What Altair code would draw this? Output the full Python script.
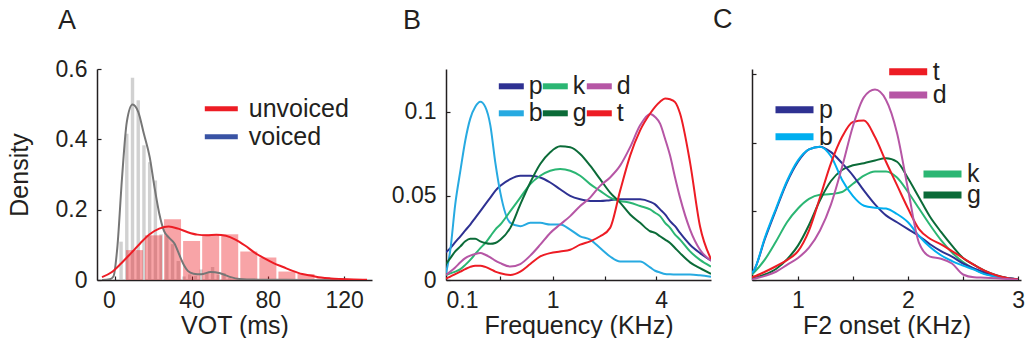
import altair as alt
import pandas as pd

FONT = "Liberation Sans"
INK = "#231f20"

# ---------------- Panel A : VOT ----------------
unvoiced_bin_ms = [10, 20, 30, 40, 50, 60, 70, 80, 90, 100, 110]
unvoiced_bin_density = [0.085, 0.127, 0.173, 0.111, 0.130, 0.130, 0.081, 0.064, 0.024, 0.017, 0.005]

voiced_bin_ms = [3, 6, 9, 12, 15, 18, 21, 24, 27, 30, 33, 36, 39, 42, 45, 48, 51, 54, 57, 60, 66, 75]
voiced_bin_density = [0.109, 0.416, 0.575, 0.511, 0.383, 0.335, 0.283, 0.130, 0.126, 0.102, 0.054,
                      0.010, 0.016, 0.012, 0.030, 0.020, 0.037, 0.015, 0.020, 0.005, 0.002, 0.003]

unvoiced_kde_ms = [-7, -2, 3, 8, 13, 18, 23, 28, 33, 38, 43, 48, 53, 58, 63, 68, 73, 78, 83, 88,
                   93, 98, 103, 108, 113, 118, 125, 132]
unvoiced_kde = [0.008, 0.022, 0.047, 0.075, 0.104, 0.130, 0.146, 0.152, 0.146, 0.136, 0.129, 0.127,
                0.129, 0.126, 0.115, 0.098, 0.078, 0.062, 0.048, 0.037, 0.026, 0.017, 0.012, 0.007,
                0.0045, 0.003, 0.0015, 0.001]

voiced_kde_ms = [-7, -3, -1, 1, 3.5, 6, 9, 12, 15, 18, 20.5, 23, 25.5, 28, 31, 34, 36, 38, 41, 45,
                 50, 55, 60, 65, 75, 90, 131]
voiced_kde = [0.0, 0.002, 0.01, 0.09, 0.29, 0.449, 0.499, 0.478, 0.415, 0.35, 0.265, 0.19, 0.14,
              0.121, 0.104, 0.066, 0.042, 0.026, 0.018, 0.016, 0.023, 0.019, 0.009, 0.003, 0.001,
              0.0005, 0.0]

A_series = ["unvoiced", "voiced"]
A_series_colors = {"unvoiced": "#ed1c24", "voiced": "#3953a4"}

# ---------------- Panel B : burst spectrum ----------------
B_freq_khz = [0.010, 0.033, 0.060, 0.090, 0.120, 0.152, 0.186, 0.222, 0.259, 0.299, 0.340, 0.384,
              0.478, 0.582, 0.697, 0.824, 0.965, 1.120, 1.293, 1.484, 1.695, 1.928, 2.186, 2.472,
              2.790, 3.140, 3.528, 3.736, 3.955, 4.186, 4.429, 4.684, 4.953, 5.533, 6.174, 6.96]
B_p = [0.0165, 0.019, 0.0225, 0.026, 0.0295, 0.033, 0.037, 0.041, 0.045, 0.049, 0.053, 0.056,
       0.060, 0.062, 0.062, 0.061, 0.058, 0.054, 0.050, 0.048, 0.047, 0.047, 0.0475, 0.048, 0.048,
       0.048, 0.0465, 0.045, 0.042, 0.039, 0.035, 0.032, 0.028, 0.021, 0.016, 0.0115]
B_k = [0.003, 0.004, 0.005, 0.0065, 0.009, 0.012, 0.0155, 0.019, 0.022, 0.026, 0.030, 0.033,
       0.041, 0.049, 0.057, 0.062, 0.065, 0.066, 0.065, 0.062, 0.057, 0.053, 0.049, 0.047, 0.046,
       0.044, 0.042, 0.040, 0.038, 0.034, 0.031, 0.027, 0.024, 0.017, 0.012, 0.008]
B_d = [0.003, 0.005, 0.0075, 0.0105, 0.013, 0.0145, 0.0155, 0.016, 0.015, 0.0135, 0.0115, 0.010,
       0.008, 0.0095, 0.0145, 0.021, 0.028, 0.033, 0.038, 0.044, 0.049, 0.056, 0.061, 0.068, 0.079,
       0.092, 0.0988, 0.097, 0.093, 0.084, 0.074, 0.061, 0.049, 0.030, 0.018, 0.0115]
B_b = [0.004, 0.018, 0.045, 0.065, 0.083, 0.096, 0.103, 0.106, 0.103, 0.092, 0.070, 0.052,
       0.034, 0.032, 0.034, 0.034, 0.033, 0.033, 0.030, 0.026, 0.024, 0.019, 0.014, 0.011, 0.011,
       0.011, 0.0075, 0.0055, 0.0045, 0.0036, 0.0034, 0.0033, 0.0032, 0.0032, 0.0028, 0.002]
B_g = [0.0095, 0.013, 0.017, 0.020, 0.023, 0.0245, 0.0245, 0.023, 0.022, 0.0215, 0.022, 0.024,
       0.031, 0.045, 0.058, 0.069, 0.076, 0.0795, 0.079, 0.075, 0.068, 0.060, 0.052, 0.046, 0.039,
       0.034, 0.029, 0.028, 0.026, 0.024, 0.022, 0.019, 0.016, 0.0105, 0.007, 0.0036]
B_t = [0.0008, 0.002, 0.0035, 0.005, 0.0065, 0.0078, 0.0085, 0.0085, 0.0078, 0.0065, 0.005, 0.004,
       0.003, 0.005, 0.0095, 0.014, 0.016, 0.017, 0.018, 0.021, 0.023, 0.026, 0.031, 0.053, 0.074,
       0.089, 0.099, 0.103, 0.106, 0.108, 0.1075, 0.1058, 0.099, 0.070, 0.032, 0.0125]

PHONE_COLORS_B = {"p": "#2e3192", "k": "#2bb673", "d": "#b656a5",
                  "b": "#27aae1", "g": "#0b6b38", "t": "#ed1c24"}
PHONE_COLORS_C = {"p": "#2e3192", "k": "#2bb673", "d": "#b656a5",
                  "b": "#00aeef", "g": "#0b6b38", "t": "#ed1c24"}

# ---------------- Panel C : F2 onset ----------------
C_f2_khz = [0.58, 0.6, 0.7, 0.8, 0.9, 1.0, 1.1, 1.2, 1.3, 1.4, 1.5, 1.6, 1.7, 1.8, 1.9, 2.0,
            2.1, 2.2, 2.3, 2.4, 2.5, 2.6, 2.7, 2.8, 2.9, 3.0]
C_p = [0.05, 0.07, 0.30, 0.51, 0.71, 0.86, 0.95, 0.97, 0.93, 0.85, 0.76, 0.65, 0.55, 0.47, 0.42,
       0.37, 0.32, 0.26, 0.21, 0.17, 0.12, 0.085, 0.055, 0.03, 0.015, 0.006]
C_b = [0.05, 0.07, 0.31, 0.52, 0.72, 0.87, 0.95, 0.97, 0.90, 0.73, 0.61, 0.54, 0.525, 0.52, 0.48,
       0.42, 0.32, 0.24, 0.18, 0.138, 0.105, 0.075, 0.041, 0.025, 0.012, 0.005]
C_k = [0.04, 0.055, 0.15, 0.28, 0.42, 0.52, 0.59, 0.62, 0.625, 0.64, 0.70, 0.76, 0.79, 0.79, 0.745,
       0.64, 0.52, 0.40, 0.29, 0.20, 0.13, 0.08, 0.045, 0.025, 0.012, 0.005]
C_g = [0.01, 0.015, 0.04, 0.08, 0.15, 0.25, 0.40, 0.58, 0.72, 0.80, 0.835, 0.85, 0.87, 0.886, 0.86,
       0.74, 0.60, 0.46, 0.35, 0.25, 0.16, 0.11, 0.066, 0.035, 0.015, 0.005]
C_t = [0.02, 0.025, 0.06, 0.10, 0.145, 0.21, 0.36, 0.60, 0.85, 1.04, 1.15, 1.16, 1.04, 0.86, 0.69,
       0.52, 0.37, 0.30, 0.26, 0.21, 0.16, 0.11, 0.066, 0.035, 0.015, 0.005]
C_d = [0.003, 0.008, 0.03, 0.06, 0.11, 0.16, 0.235, 0.36, 0.55, 0.82, 1.12, 1.33, 1.385, 1.31, 1.07,
       0.66, 0.27, 0.17, 0.155, 0.12, 0.04, 0.02, 0.017, 0.013, 0.008, 0.002]


# ---------------- helpers ----------------
def main_axis(orient, values, title=None, labels=True, label_expr="'' + datum.value",
              tick_opacity=None, label_align=None, label_pad=10, title_pad=2):
    kw = dict(orient=orient, values=values, offset=-4, tickSize=4, tickWidth=1.2,
              tickColor=INK, domain=False, grid=False, labels=labels,
              labelFont=FONT, labelFontSize=23, labelColor=INK, labelPadding=label_pad,
              labelFlush=False, labelOverlap=False, labelExpr=label_expr,
              titleFont=FONT, titleFontSize=25, titleFontWeight="normal",
              titleColor=INK, titlePadding=title_pad, title=title)
    if tick_opacity is not None:
        kw["tickOpacity"] = tick_opacity
    if label_align is not None:
        kw["labelAlign"] = label_align
    return alt.Axis(**kw)


def frame_axis(orient):
    return alt.Axis(orient=orient, title=None, labels=False, ticks=False, domain=True,
                    domainColor=INK, domainWidth=1.5, grid=False)


def panel_title(letter, dx, offset):
    return alt.TitleParams(letter, anchor="start", frame="group", dx=dx, offset=offset,
                           fontSize=27, font=FONT, fontWeight="normal", color=INK)


def legend(x, y, length, width, gap):
    base = 16
    f = length / base
    return alt.Legend(title=None, orient="none", legendX=x, legendY=y,
                      symbolType=f"M-{f:.3f},0H{f:.3f}", symbolSize=base * base,
                      symbolStrokeWidth=width, symbolOpacity=1,
                      labelFont=FONT, labelFontSize=25, labelColor=INK,
                      labelOffset=(length - base) / 2 + gap, padding=0)


# ---------------- Panel A ----------------
xA = alt.Scale(domain=[-7, 132], nice=False, zero=False)
yA = alt.Scale(domain=[0, 0.6], nice=False)

a_gray_bars = alt.Chart(pd.DataFrame({"ms": voiced_bin_ms, "density": voiced_bin_density})).mark_bar(
    size=3.4, color="#b9b9b9", opacity=0.65).encode(
    x=alt.X("ms:Q", scale=xA, axis=frame_axis("bottom")),
    y=alt.Y("density:Q", scale=yA, axis=frame_axis("left")))

a_red_bars = alt.Chart(pd.DataFrame({"ms": unvoiced_bin_ms, "density": unvoiced_bin_density})).mark_bar(
    size=17, color="#ed1c24", opacity=0.4).encode(
    x=alt.X("ms:Q", scale=xA, axis=None),
    y=alt.Y("density:Q", scale=yA, axis=None))

a_gray_line = alt.Chart(pd.DataFrame({"ms": voiced_kde_ms, "density": voiced_kde})).mark_line(
    color="#767676", strokeWidth=2, interpolate="monotone", clip=True).encode(
    x=alt.X("ms:Q", scale=xA, axis=None),
    y=alt.Y("density:Q", scale=yA, axis=None))

a_red_line = alt.Chart(pd.DataFrame({"ms": unvoiced_kde_ms, "density": unvoiced_kde})).mark_line(
    color="#ed1c24", strokeWidth=2, interpolate="monotone", clip=True).encode(
    x=alt.X("ms:Q", scale=xA, axis=main_axis(
        "bottom", [0, 40, 80, 120], title="VOT (ms)",
        label_align={"condition": {"test": "datum.value == 0", "value": "right"}, "value": "center"},
        label_pad=9, title_pad=1)),
    y=alt.Y("density:Q", scale=yA, axis=main_axis("left", [0, 0.2, 0.4, 0.6], title="Density",
                                                  label_pad=10, title_pad=23)))


def a_key(name, y):
    # legend-only layer (no marks drawn): the key uses its own colour, not the curve colour
    return alt.Chart(pd.DataFrame({"series": [name], "ms": [0], "density": [0]})).transform_filter(
        "false").mark_line().encode(
        x=alt.X("ms:Q", scale=xA, axis=None),
        y=alt.Y("density:Q", scale=yA, axis=None),
        color=alt.Color("series:N", scale=alt.Scale(domain=[name], range=[A_series_colors[name]]),
                        legend=legend(111.8, y, 33, 5, 6.5)))


panelA = alt.layer(a_gray_bars, a_red_bars, a_gray_line, a_red_line,
                   a_key("unvoiced", 27.3), a_key("voiced", 55.3)).resolve_axis(
    x="independent", y="independent").resolve_scale(color="independent").properties(
    width=275, height=211, title=panel_title("A", -39, 23))

# ---------------- Panel B ----------------
B_values = {"p": B_p, "k": B_k, "d": B_d, "b": B_b, "g": B_g, "t": B_t}
B_key_pos = {"p": (52.8, 4.8), "k": (96.8, 4.8), "d": (140.8, 4.8),
             "b": (52.8, 31.8), "g": (96.8, 31.8), "t": (140.8, 31.8)}
xB = alt.Scale(type="symlog", constant=0.5, domain=[0.010, 6.96], nice=False)
yB = alt.Scale(domain=[0, 0.1255], nice=False)


def b_layer(stop, with_axes=False):
    df = pd.DataFrame({"khz": B_freq_khz, "density": B_values[stop], "stop": stop})
    if with_axes:
        xa = main_axis(
            "bottom", [0.1, 0.383, 1, 2.05, 3.78, 4], title="Frequency (KHz)",
            label_expr="datum.value == 0.1 || datum.value == 1 || datum.value == 4 ? '' + datum.value : ''",
            tick_opacity={"condition": {"test": "datum.value == 0.1 || datum.value == 4", "value": 0},
                          "value": 1},
            label_pad=9, title_pad=1)
        ya = main_axis("left", [0, 0.05, 0.1], label_pad=10)
    else:
        xa = None
        ya = None
    lx, ly = B_key_pos[stop]
    return alt.Chart(df).mark_line(strokeWidth=2, interpolate="monotone", clip=True).encode(
        x=alt.X("khz:Q", scale=xB, axis=xa),
        y=alt.Y("density:Q", scale=yB, axis=ya),
        color=alt.Color("stop:N", scale=alt.Scale(domain=[stop], range=[PHONE_COLORS_B[stop]]),
                        legend=legend(lx, ly, 25, 6, 0.5)))


b_frame = alt.Chart(pd.DataFrame({"khz": B_freq_khz, "density": B_p})).mark_line(opacity=0).encode(
    x=alt.X("khz:Q", scale=xB, axis=frame_axis("bottom")),
    y=alt.Y("density:Q", scale=yB, axis=frame_axis("left")))

panelB = alt.layer(b_frame, b_layer("p", with_axes=True), b_layer("b"), b_layer("k"),
                   b_layer("g"), b_layer("d"), b_layer("t")).resolve_axis(
    x="independent", y="independent").resolve_scale(color="independent").properties(
    width=265, height=211, title=panel_title("B", -43, 34))

# ---------------- Panel C ----------------
C_values = {"p": C_p, "b": C_b, "k": C_k, "g": C_g, "t": C_t, "d": C_d}
C_key_pos = {"p": (30, 28.3), "b": (30, 55.3), "t": (143.7, -9.7), "d": (143.7, 13.6),
             "k": (178, 92.6), "g": (178, 113.6)}
xC = alt.Scale(domain=[0.582, 3.027], nice=False, zero=False)
yC = alt.Scale(domain=[0, 1.535], nice=False)


def c_layer(stop, with_axes=False):
    df = pd.DataFrame({"khz": C_f2_khz, "density": C_values[stop], "stop": stop})
    if with_axes:
        xa = main_axis("bottom", [1, 1.5, 2, 2.5, 3], title="F2 onset (KHz)",
                       label_expr="datum.value == 1 || datum.value == 2 || datum.value == 3 ? '' + datum.value : ''",
                       label_pad=9, title_pad=1)
        ya = main_axis("left", [0, 0.5, 1, 1.5], labels=False)
    else:
        xa = None
        ya = None
    lx, ly = C_key_pos[stop]
    return alt.Chart(df).mark_line(strokeWidth=2, interpolate="monotone", clip=True).encode(
        x=alt.X("khz:Q", scale=xC, axis=xa),
        y=alt.Y("density:Q", scale=yC, axis=ya),
        color=alt.Color("stop:N", scale=alt.Scale(domain=[stop], range=[PHONE_COLORS_C[stop]]),
                        legend=legend(lx, ly, 38, 7, 1)))


c_frame = alt.Chart(pd.DataFrame({"khz": C_f2_khz, "density": C_p})).mark_line(opacity=0).encode(
    x=alt.X("khz:Q", scale=xC, axis=frame_axis("bottom")),
    y=alt.Y("density:Q", scale=yC, axis=frame_axis("left")))

panelC = alt.layer(c_frame, c_layer("k"), c_layer("g"), c_layer("p", with_axes=True), c_layer("b"),
                   c_layer("t"), c_layer("d")).resolve_axis(
    x="independent", y="independent").resolve_scale(color="independent").properties(
    width=269, height=211, title=panel_title("C", -39, 25.5))

chart = alt.hconcat(
    panelA,
    alt.hconcat(panelB, panelC, spacing=2).resolve_scale(color="independent"),
    spacing=19,
).resolve_scale(color="independent").configure_view(stroke=None).properties(
    padding={"left": 7, "top": 5, "right": 0, "bottom": 0}, background="white")

chart.save("out.html", embed_options={"renderer": "svg", "actions": False})
